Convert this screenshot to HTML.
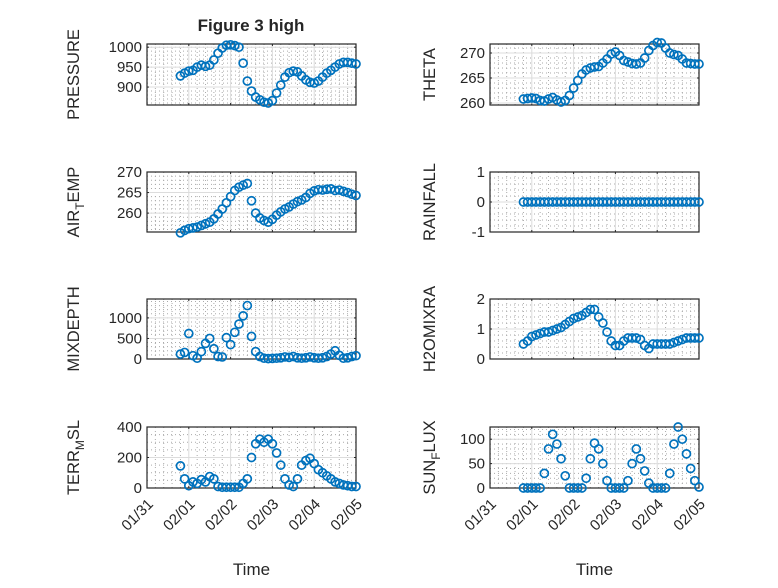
<!DOCTYPE html>
<html><head><meta charset="utf-8"><style>
body{margin:0;background:#fff;}
svg text{font-family:"Liberation Sans",sans-serif;fill:#262626;}
</style></head><body>
<svg id="fig" width="778" height="583" viewBox="0 0 778 583" xmlns="http://www.w3.org/2000/svg">
<text x="251" y="31" font-size="17" font-weight="bold" text-anchor="middle">Figure 3 high</text>
</svg>
<script>
const times=[0.8,0.9,1.0,1.1,1.2,1.3,1.4,1.5,1.6,1.7,1.8,1.9,2.0,2.1,2.2,2.3,2.4,2.5,2.6,2.7,2.8,2.9,3.0,3.1,3.2,3.3,3.4,3.5,3.6,3.7,3.8,3.9,4.0,4.1,4.2,4.3,4.4,4.5,4.6,4.7,4.8,4.9,5.0];
const pressure=[928,935,940,942,950,955,952,955,968,985,998,1005,1006,1004,1000,960,915,890,875,868,862,860,866,885,905,925,936,940,938,928,918,912,910,915,925,935,942,950,958,962,962,960,958];
const theta=[260.8,260.9,261,260.9,260.5,260.4,260.8,261.1,260.6,260.2,260.5,261.5,263,264.5,265.8,266.6,267,267.2,267.3,268,268.8,269.8,270.2,269.5,268.5,268.2,267.9,267.8,268,269,270.5,271.5,272.1,272,271,270,269.7,269.5,268.8,268,267.9,267.8,267.8];
const airTemp=[255.2,255.8,256.2,256.4,256.6,257,257.4,257.8,258.6,259.8,261,262.5,264,265.5,266.3,266.8,267.2,263,260,258.8,258.2,257.8,258.5,259.5,260.3,261,261.5,262.2,262.8,263.2,263.8,264.8,265.4,265.7,265.6,265.8,265.9,265.5,265.6,265.3,265,264.6,264.3];
const rainfall=[0,0,0,0,0,0,0,0,0,0,0,0,0,0,0,0,0,0,0,0,0,0,0,0,0,0,0,0,0,0,0,0,0,0,0,0,0,0,0,0,0,0,0];
const mixDepth=[120,160,620,80,20,180,380,500,250,60,50,520,350,650,850,1050,1300,550,180,60,20,10,15,20,30,50,40,60,30,20,30,50,30,20,30,60,120,200,90,20,30,60,80];
const h2oMix=[0.5,0.6,0.75,0.8,0.85,0.9,0.9,0.95,1.0,1.05,1.15,1.25,1.35,1.4,1.45,1.55,1.65,1.65,1.4,1.2,0.9,0.6,0.45,0.45,0.6,0.7,0.7,0.7,0.65,0.45,0.35,0.5,0.5,0.5,0.5,0.5,0.55,0.6,0.65,0.7,0.7,0.7,0.7];
const terrMsl=[145,60,15,40,30,55,40,75,60,10,5,5,5,5,5,30,60,200,290,320,300,320,290,230,150,60,20,10,60,150,180,195,160,120,100,80,60,40,30,20,15,10,10];
const sunFlux=[0,0,0,0,0,30,80,110,90,60,25,0,0,0,0,20,60,92,80,50,15,0,0,0,0,15,50,80,60,35,10,0,0,0,0,30,90,125,100,70,40,15,2];
const xTickLabels=["01/31","02/01","02/02","02/03","02/04","02/05"];
const xTicks=[0,1,2,3,4,5];

const NS="http://www.w3.org/2000/svg";
const svg=document.getElementById('fig');
function mk(tag,attrs,parent){const e=document.createElementNS(NS,tag);for(const k in attrs)e.setAttribute(k,attrs[k]);(parent||svg).appendChild(e);return e;}

const cols=[{x0:147,x1:356,lx:79},{x0:490,x1:699,lx:435}];
const rows=[{y0:44,y1:105},{y0:172,y1:232},{y0:299,y1:359},{y0:427,y1:488}];
const panels=[
 {name:'pressure',data:pressure,c:0,r:0,ylim:[855,1008],ticks:[900,950,1000],minor:5,label:['PRESSURE']},
 {name:'theta',data:theta,c:1,r:0,ylim:[259.6,271.8],ticks:[260,265,270],minor:5,label:['THETA']},
 {name:'air-temp',data:airTemp,c:0,r:1,ylim:[255.4,270],ticks:[260,265,270],minor:5,label:['AIR','T','EMP']},
 {name:'rainfall',data:rainfall,c:1,r:1,ylim:[-1,1],ticks:[-1,0,1],minor:5,label:['RAINFALL']},
 {name:'mix-depth',data:mixDepth,c:0,r:2,ylim:[0,1460],ticks:[0,500,1000],minor:5,label:['MIXDEPTH']},
 {name:'h2o-mix',data:h2oMix,c:1,r:2,ylim:[0,2],ticks:[0,1,2],minor:5,label:['H2OMIXRA']},
 {name:'terr-msl',data:terrMsl,c:0,r:3,ylim:[0,400],ticks:[0,200,400],minor:4,label:['TERR','M','SL']},
 {name:'sun-flux',data:sunFlux,c:1,r:3,ylim:[0,125],ticks:[0,50,100],minor:5,label:['SUN','F','LUX']}
];

panels.forEach(p=>{
 const C=cols[p.c],R=rows[p.r];
 const sx=t=>C.x0+(t-0)/(5-0)*(C.x1-C.x0);
 const sy=v=>R.y1-(v-p.ylim[0])/(p.ylim[1]-p.ylim[0])*(R.y1-R.y0);
 const g=mk('g',{});
 
 
 mk('rect',{x:C.x0,y:R.y0,width:C.x1-C.x0,height:R.y1-R.y0,fill:'#fff'},g);
 for(let d=0;d<5;d++)for(let k=1;k<5;k++){const x=sx(d+k/5);mk('line',{x1:x,x2:x,y1:R.y0,y2:R.y1,stroke:'#aaa','stroke-width':1,'stroke-dasharray':'1,3'},g);}
 const step=p.ticks[1]-p.ticks[0];
 for(let v=p.ticks[0]-step;v<=p.ylim[1];v+=step/p.minor){ if(v<p.ylim[0]||v>p.ylim[1])continue; const y=sy(v);mk('line',{x1:C.x0,x2:C.x1,y1:y,y2:y,stroke:'#aaa','stroke-width':1,'stroke-dasharray':'1,3'},g);}
 xTicks.forEach(t=>{const x=sx(t);mk('line',{x1:x,x2:x,y1:R.y0,y2:R.y1,stroke:'#dcdcdc','stroke-width':1},g);
   mk('line',{x1:x,x2:x,y1:R.y1,y2:R.y1-2,stroke:'#262626'},g);mk('line',{x1:x,x2:x,y1:R.y0,y2:R.y0+2,stroke:'#262626'},g);});
 p.ticks.forEach(v=>{const y=sy(v);mk('line',{x1:C.x0,x2:C.x1,y1:y,y2:y,stroke:'#dcdcdc','stroke-width':1},g);
   mk('line',{x1:C.x0,x2:C.x0+2,y1:y,y2:y,stroke:'#262626'},g);mk('line',{x1:C.x1,x2:C.x1-2,y1:y,y2:y,stroke:'#262626'},g);
   const tl=mk('text',{x:C.x0-5,y:y+5,'font-size':15,'text-anchor':'end'},g);tl.textContent=v;
   
   
 });
 mk('rect',{x:C.x0,y:R.y0,width:C.x1-C.x0,height:R.y1-R.y0,fill:'none',stroke:'#262626','stroke-width':1.2},g);
 times.forEach((t,i)=>{const c=mk('circle',{cx:sx(t),cy:sy(p.data[i]),r:4,fill:'none',stroke:'#0072BD','stroke-width':1.7},g);
   
   });
 const cy=(R.y0+R.y1)/2;
 const yl=mk('text',{x:0,y:0,'font-size':16.5,'text-anchor':'middle',transform:`translate(${C.lx},${cy}) rotate(-90)`},g);
 
 
 if(p.label.length===1){yl.textContent=p.label[0];}
 else{const a=mk('tspan',{},yl);a.textContent=p.label[0];const b=mk('tspan',{dy:5,'font-size':12},yl);b.textContent=p.label[1];const c2=mk('tspan',{dy:-5},yl);c2.textContent=p.label[2];}
 if(p.r===3){
   xTicks.forEach((t,i)=>{const x=sx(t);const tl=mk('text',{x:0,y:0,'font-size':15,'text-anchor':'end',transform:`translate(${x+7},${R.y1+17}) rotate(-45)`},g);tl.textContent=xTickLabels[i];
     
     });
   const xt=mk('text',{x:(C.x0+C.x1)/2,y:575,'font-size':17,'text-anchor':'middle'},g);xt.textContent='Time';
   
   
 }
});
</script>
</body></html>
